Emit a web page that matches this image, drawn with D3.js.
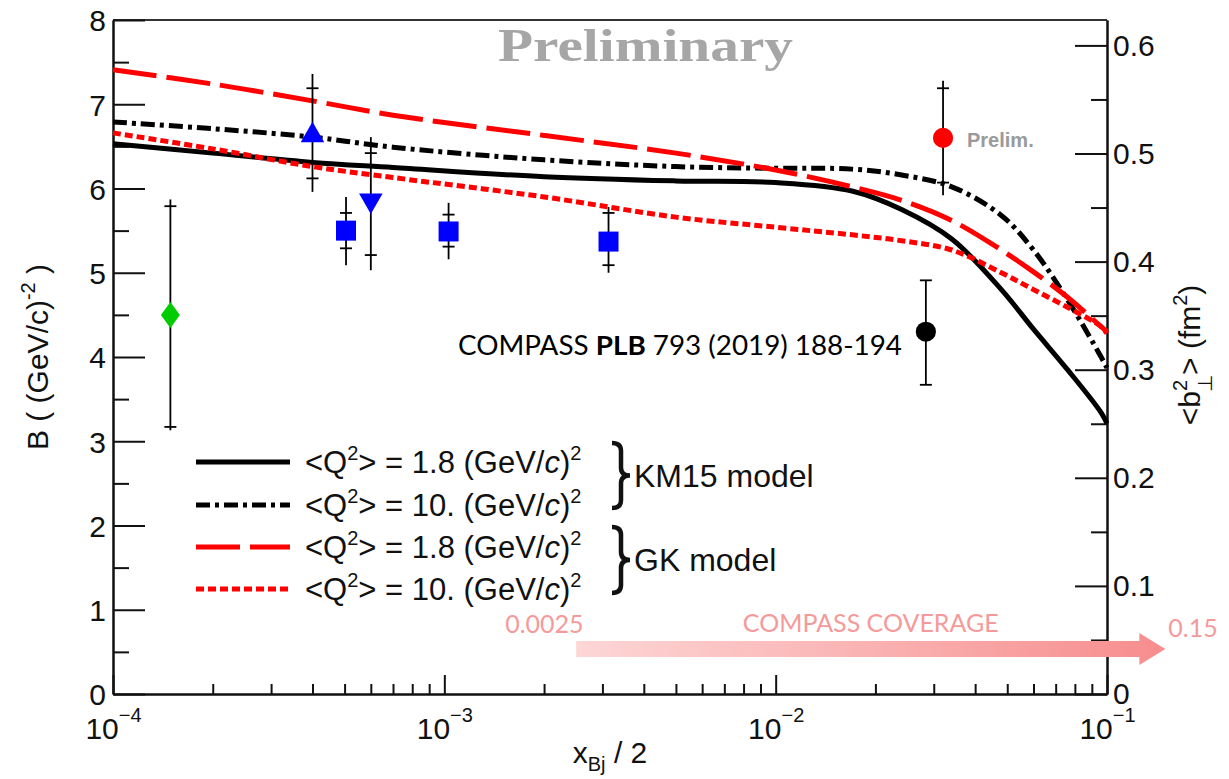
<!DOCTYPE html>
<html>
<head>
<meta charset="utf-8">
<script src="https://cdn.jsdelivr.net/npm/d3@7"></script>
<style>
  body { margin: 0; background: #fff; }
  svg { display: block; }
</style>
</head>
<body>
<script>
// model curves, sampled on a log grid in x_Bj/2
const xGrid = [1e-4, 2e-4, 4e-4, 7e-4, 2e-3, 5e-3, 0.01, 0.017, 0.024, 0.034, 0.048, 0.06, 0.076, 0.096, 0.1];
const km15Low  = [6.53, 6.42, 6.31, 6.25, 6.14, 6.09, 6.07, 5.97, 5.75, 5.40, 4.80, 4.33, 3.85, 3.34, 3.21];
const km15High = [6.79, 6.71, 6.61, 6.49, 6.34, 6.26, 6.24, 6.23, 6.16, 6.02, 5.68, 5.27, 4.68, 4.00, 3.87];
const gkLow    = [7.41, 7.24, 7.04, 6.87, 6.63, 6.42, 6.22, 6.02, 5.86, 5.62, 5.27, 5.01, 4.71, 4.36, 4.30];
const gkHigh   = [6.66, 6.47, 6.26, 6.13, 5.90, 5.66, 5.54, 5.45, 5.38, 5.27, 5.00, 4.80, 4.59, 4.36, 4.28];

// measured points (value, stat error ends, total error ends)
const ptX      = [1.49e-4, 4.0e-4, 5.05e-4, 6.0e-4, 1.03e-3, 3.13e-3, 0.0284, 0.032];
const ptY      = [4.50, 6.63, 5.50, 5.86, 5.49, 5.37, 4.30, 6.60];
const ptStatLo = [3.17, 6.12, 5.29, 5.21, 5.31, 5.09, 3.67, 6.07];
const ptStatHi = [5.79, 7.19, 5.71, 6.42, 5.69, 5.71, 4.91, 7.19];
const ptTotLo  = [3.13, 5.96, 5.09, 5.03, 5.16, 5.00, 3.67, 5.92];
const ptTotHi  = [5.87, 7.36, 5.90, 6.61, 5.83, 5.78, 4.91, 7.28];

// ticks
const leftTicks = [0, 1, 2, 3, 4, 5, 6, 7, 8];
const rightTicks = [0, 0.1, 0.2, 0.3, 0.4, 0.5, 0.6];
const xDecades = [-4, -3, -2, -1];

// legend + annotations
const legendQ2 = ["1.8", "10.", "1.8", "10."];
const modelNames = ["KM15 model", "GK model"];
const coverage = [0.0025, 0.15];
const b2Max = 0.6235; // <b_T^2> equivalent of B = 8

function drawChart() {
  var w = 1229, h = 779;
  var left = 113, right = 1107, top = 20, bottom = 694;
  var font = "'Liberation Sans', Arial, sans-serif";

  var svg = d3.select("body").append("svg")
      .attr("width", w).attr("height", h);

  var x = d3.scaleLog().domain([1e-4, 1e-1]).range([left, right]);
  var y = d3.scaleLinear().domain([0, 8]).range([bottom, top]);
  var y2 = d3.scaleLinear().domain([0, b2Max]).range([bottom, top]);

  // gradient for coverage arrow
  var grad = svg.append("defs").append("linearGradient")
      .attr("id", "cov").attr("x1", "0%").attr("x2", "100%");
  grad.append("stop").attr("offset", "0%").attr("stop-color", "#fdd6d6");
  grad.append("stop").attr("offset", "100%").attr("stop-color", "#f78d8d");

  // frame top line
  svg.append("line")
     .attr("x1", left).attr("x2", right).attr("y1", top).attr("y2", top)
     .attr("stroke", "#333").attr("stroke-width", 2);

  // left axis, major + minor
  var yAxis = d3.axisLeft(y).tickValues(leftTicks).tickSize(-32).tickSizeOuter(0).tickPadding(7);
  var gy = svg.append("g").attr("transform", "translate(" + left + ",0)").call(yAxis);
  svg.append("g").attr("transform", "translate(" + left + ",0)")
     .call(d3.axisLeft(y).tickValues(leftTicks.slice(0, -1).map(d => d + 0.5))
           .tickSize(-16).tickSizeOuter(0).tickFormat(""));

  // right axis
  var y2Axis = d3.axisRight(y2).tickValues(rightTicks).tickSize(-32).tickSizeOuter(0).tickPadding(6)
      .tickFormat(d => d === 0 ? "0" : d3.format(".1f")(d));
  var gy2 = svg.append("g").attr("transform", "translate(" + right + ",0)").call(y2Axis);
  svg.append("g").attr("transform", "translate(" + right + ",0)")
     .call(d3.axisRight(y2).tickValues(rightTicks.map(d => d + 0.05))
           .tickSize(-16).tickSizeOuter(0).tickFormat(""));

  // x axis, decades + minor
  var majors = xDecades.map(e => Math.pow(10, e));
  var minors = [];
  xDecades.slice(0, -1).forEach(function(e) {
    for (var k = 2; k <= 9; k++) minors.push(k * Math.pow(10, e));
  });
  var gx = svg.append("g").attr("transform", "translate(0," + bottom + ")")
     .call(d3.axisBottom(x).tickValues(majors).tickSize(-19).tickSizeOuter(0).tickFormat(""));
  svg.append("g").attr("transform", "translate(0," + bottom + ")")
     .call(d3.axisBottom(x).tickValues(minors).tickSize(-10).tickSizeOuter(0).tickFormat(""));

  gx.selectAll(".tick text").each(function(d, i) {
    var t = d3.select(this).attr("y", 45).attr("dy", 0);
    t.append("tspan").text("10");
    t.append("tspan").attr("font-size", 20).attr("dy", -17).text("\u2212" + (-xDecades[i]));
  });

  svg.selectAll(".domain, .tick line")
     .attr("stroke", "#111").attr("stroke-width", 2);
  svg.selectAll(".tick text")
     .attr("font-family", font).attr("font-size", 30).attr("fill", "#111");
  gy.selectAll(".tick text").attr("dy", "0.36em");
  gy2.selectAll(".tick text").attr("dy", "0.33em");

  // model curves
  var curves = [
    { v: km15Low,  color: "#000", dash: null },
    { v: km15High, color: "#000", dash: "14,5,4,5" },
    { v: gkLow,    color: "#f00", dash: "44,10" },
    { v: gkHigh,   color: "#f00", dash: "8,4" }
  ];
  var line = d3.line()
      .x((d, i) => x(xGrid[i]))
      .y(d => y(d))
      .curve(d3.curveCatmullRom.alpha(0.5));
  svg.selectAll("path.model")
     .data(curves)
     .enter()
     .append("path")
     .attr("class", "model")
     .attr("d", d => line(d.v))
     .attr("fill", "none")
     .attr("stroke", d => d.color)
     .attr("stroke-width", 5)
     .attr("stroke-dasharray", d => d.dash);

  // data points with error bars
  var looks = [
    { shape: "diamond", color: "#00cc00" },
    { shape: "up", color: "#0000ff" },
    { shape: "square", color: "#0000ff" },
    { shape: "down", color: "#0000ff" },
    { shape: "square", color: "#0000ff" },
    { shape: "square", color: "#0000ff" },
    { shape: "circle", color: "#000" },
    { shape: "circle", color: "#f00" }
  ];
  var pts = ptX.map((v, i) => i);
  var eb = svg.append("g").attr("stroke", "#000").attr("stroke-width", 1.8);
  eb.selectAll("line.err").data(pts).enter().append("line")
    .attr("x1", i => x(ptX[i])).attr("x2", i => x(ptX[i]))
    .attr("y1", i => y(ptTotHi[i])).attr("y2", i => y(ptTotLo[i]));
  eb.selectAll("line.caphi").data(pts).enter().append("line")
    .attr("x1", i => x(ptX[i]) - 6).attr("x2", i => x(ptX[i]) + 6)
    .attr("y1", i => y(ptStatHi[i])).attr("y2", i => y(ptStatHi[i]));
  eb.selectAll("line.caplo").data(pts).enter().append("line")
    .attr("x1", i => x(ptX[i]) - 6).attr("x2", i => x(ptX[i]) + 6)
    .attr("y1", i => y(ptStatLo[i])).attr("y2", i => y(ptStatLo[i]));

  function markerPath(shape) {
    if (shape === "diamond") return "M0,-13L9.5,0L0,13L-9.5,0Z";
    if (shape === "square") return d3.symbol(d3.symbolSquare, 400)();
    if (shape === "circle") return d3.symbol(d3.symbolCircle, 320)();
    return d3.symbol(d3.symbolTriangle, 240)();
  }
  svg.selectAll("path.pt").data(pts).enter().append("path")
     .attr("class", "pt")
     .attr("d", i => markerPath(looks[i].shape))
     .attr("transform", i => "translate(" + x(ptX[i]) + "," + y(ptY[i]) + ")" +
           (looks[i].shape === "down" ? " rotate(180)" : ""))
     .attr("fill", i => looks[i].color);

  // "Preliminary" watermark
  svg.append("text")
     .attr("x", 498).attr("y", 61)
     .attr("textLength", 295).attr("lengthAdjust", "spacingAndGlyphs")
     .attr("font-family", "'Liberation Serif', 'DejaVu Serif', serif")
     .attr("font-weight", "bold").attr("font-size", 47)
     .attr("fill", "#a6a6a6")
     .text("Preliminary");

  svg.append("text")
     .attr("x", 967).attr("y", 147)
     .attr("font-family", font).attr("font-weight", "bold").attr("font-size", 20)
     .attr("fill", "#9a9a9a")
     .text("Prelim.");

  // reference text
  var ref = svg.append("text")
     .attr("x", 458).attr("y", 355)
     .attr("textLength", 444).attr("lengthAdjust", "spacingAndGlyphs")
     .attr("font-family", "Lato, 'Open Sans', sans-serif").attr("font-size", 27)
     .attr("fill", "#000");
  ref.append("tspan").text("COMPASS ");
  ref.append("tspan").attr("font-weight", "bold").text("PLB");
  ref.append("tspan").text(" 793 (2019) 188-194");

  // legend
  var rows = [462, 505, 547, 589];
  var lg = svg.append("g");
  lg.selectAll("line").data(curves).enter().append("line")
    .attr("x1", 196).attr("x2", 290)
    .attr("y1", (d, i) => rows[i]).attr("y2", (d, i) => rows[i])
    .attr("stroke", d => d.color).attr("stroke-width", 5)
    .attr("stroke-dasharray", d => d.dash);
  legendQ2.forEach(function(q, i) {
    var t = lg.append("text")
       .attr("x", 305).attr("y", rows[i] + 11)
       .attr("font-family", font).attr("font-size", 31).attr("fill", "#111");
    t.append("tspan").text("<Q");
    t.append("tspan").attr("font-size", 20).attr("dy", -13).text("2");
    t.append("tspan").attr("dy", 13).text("> = " + q + " (GeV/");
    t.append("tspan").attr("font-style", "italic").text("c");
    t.append("tspan").text(")");
    t.append("tspan").attr("font-size", 20).attr("dy", -13).text("2");
  });
  function brace(x0, y0, y1, wd) {
    var ym = (y0 + y1) / 2, xm = x0 + wd / 2, r = (y1 - y0) * 0.12;
    return "M" + x0 + "," + y0 + "Q" + xm + "," + y0 + " " + xm + "," + (y0 + r) +
           "L" + xm + "," + (ym - r) + "Q" + xm + "," + ym + " " + (x0 + wd) + "," + ym +
           "Q" + xm + "," + ym + " " + xm + "," + (ym + r) +
           "L" + xm + "," + (y1 - r) + "Q" + xm + "," + y1 + " " + x0 + "," + y1;
  }
  [[443, 508], [527, 593]].forEach(function(b, i) {
    lg.append("path").attr("d", brace(612, b[0], b[1], 18))
      .attr("fill", "none").attr("stroke", "#111").attr("stroke-width", 4.5);
    lg.append("text")
      .attr("x", 634).attr("y", (b[0] + b[1]) / 2 + 11)
      .attr("font-family", font).attr("font-size", 32).attr("fill", "#111")
      .text(modelNames[i]);
  });

  // coverage arrow
  var ax0 = x(coverage[0]), ax1 = x(coverage[1]);
  svg.append("path")
     .attr("d", "M" + ax0 + ",641H" + (ax1 - 26) + "V633L" + ax1 + ",649L" + (ax1 - 26) + ",665V657H" + ax0 + "Z")
     .attr("fill", "url(#cov)");
  var pink = "#f59a9a";
  var cf = "Lato, 'Open Sans', sans-serif";
  svg.append("text").attr("x", ax0 - 71).attr("y", 633)
     .attr("font-family", cf).attr("font-size", 25).attr("fill", pink).text("0.0025");
  svg.append("text").attr("x", (ax0 + ax1) / 2).attr("y", 632)
     .attr("text-anchor", "middle")
     .attr("font-family", cf).attr("font-size", 25).attr("fill", pink).text("COMPASS COVERAGE");
  svg.append("text").attr("x", ax1 + 3).attr("y", 637)
     .attr("font-family", cf).attr("font-size", 25).attr("fill", pink).text("0.15");

  // axis titles
  var xt = svg.append("text")
     .attr("x", 610).attr("y", 763).attr("text-anchor", "middle")
     .attr("font-family", font).attr("font-size", 30).attr("fill", "#111");
  xt.append("tspan").text("x");
  xt.append("tspan").attr("font-size", 20).attr("dy", 8).text("Bj");
  xt.append("tspan").attr("dy", -8).text(" / 2");

  var yt = svg.append("text")
     .attr("transform", "translate(48,357) rotate(-90)").attr("text-anchor", "middle")
     .attr("font-family", font).attr("font-size", 30).attr("fill", "#111");
  yt.append("tspan").text("B ( (GeV/c)");
  yt.append("tspan").attr("font-size", 20).attr("dy", -13).text("-2");
  yt.append("tspan").attr("dy", 13).text(" )");

  var yt2 = svg.append("text")
     .attr("transform", "translate(1200,355) rotate(-90)").attr("text-anchor", "middle")
     .attr("font-family", font).attr("font-size", 30).attr("fill", "#111");
  yt2.append("tspan").text("<b");
  yt2.append("tspan").attr("font-size", 20).attr("dy", -13).text("2");
  yt2.append("tspan").attr("font-size", 20).attr("dx", -12).attr("dy", 25).text("\u22A5");
  yt2.append("tspan").attr("dy", -12).text("> (fm");
  yt2.append("tspan").attr("font-size", 20).attr("dy", -13).text("2");
  yt2.append("tspan").attr("dy", 13).text(")");
}

window.onload = function() {
  drawChart();
};
</script>
</body>
</html>
